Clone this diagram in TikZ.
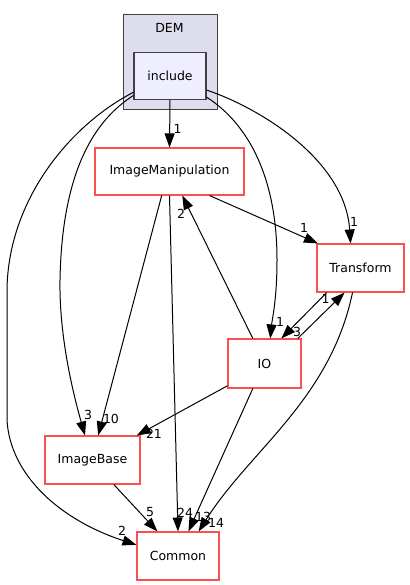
\documentclass[tikz,border=0pt]{standalone}
\usepackage{fontspec}
\setmainfont{DejaVu Sans}
\usetikzlibrary{positioning, arrows.meta}

\definecolor{dirred}{RGB}{250,80,80}
\definecolor{clusterfill}{RGB}{221,221,238}
\definecolor{incfill}{RGB}{238,238,255}
\definecolor{darkline}{RGB}{64,64,64}

\begin{document}
\begin{tikzpicture}[x=1pt, y=-1pt,
			dir/.style={rectangle, draw=dirred, fill=white, line width=1.1pt, inner sep=0pt, font=\fontsize{12.5}{15}\selectfont},
			incdir/.style={rectangle, draw=darkline, fill=incfill, line width=1.1pt, inner sep=0pt, font=\fontsize{12.5}{15}\selectfont},
			dep/.style={-{Triangle[length=14pt, width=10pt]}, line width=1pt, draw=black},
			cnt/.style={inner sep=0pt, font=\fontsize{12.5}{14}\selectfont}
			]
			\useasboundingbox (0,0) rectangle (409,585);
			% cluster
			\draw[darkline, fill=clusterfill, line width=1pt] (123,15) rectangle (217,110);
			\node[font=\fontsize{12.5}{15}\selectfont] (demlabel) at (169.5,27.5) {DEM};
			
			\node[incdir, minimum width=72pt, minimum height=47pt] (include) at (170,76) {include};
			\node[dir, minimum width=149pt, minimum height=47pt] (imgman) at (169.5,171.5) {ImageManipulation};
			\node[dir, minimum width=87pt, minimum height=48pt] (transform) at (360.5,268) {Transform};
			\node[dir, minimum width=73pt, minimum height=49pt] (io) at (264.5,363.5) {IO};
			\node[dir, minimum width=95pt, minimum height=48pt] (imgbase) at (92.5,460) {ImageBase};
			\node[dir, minimum width=82pt, minimum height=48pt] (common) at (178,556) {Common};
			
			% from include
			\draw[dep] (include.south) -- (imgman.north);
			\draw[dep] (include.-21) .. controls (260,108) and (345,160) .. (transform.112);
			\draw[dep] (include.-30) .. controls (250,125) and (277,180) .. (277,260) .. controls (277,300) and (272,320) .. (io.77);
			\draw[dep] (include.-152) .. controls (95,120) and (62,170) .. (60,280) .. controls (59,340) and (75,400) .. (imgbase.107);
			\draw[dep] (include.-156) .. controls (70,125) and (8,200) .. (7,290) -- (7,420) .. controls (10,475) and (60,520) .. (common.165);
			
			% from ImageManipulation
			\draw[dep] (imgman.-31) -- (transform.150);
			\draw[dep] (imgman.-108) -- (imgbase.77);
			\draw[dep] (imgman.south) -- (common.north);
			
			% from IO and Transform
			\draw[dep] (io.115) -- (imgman.-62);
			\draw[dep] (io.37) -- (transform.-123);
			\draw[dep] (transform.-144) -- (io.56);
			\draw[dep] (io.-149) -- (imgbase.29);
			\draw[dep] (io.-115) -- (common.67);
			\draw[dep] (transform.-108) .. controls (330,400) and (250,450) .. (common.50);
			\draw[dep] (imgbase.-49) -- (common.130);
			
			% counts
			\node[cnt] (c1) at (177.5,128.5) {1};
			\node[cnt] (c2) at (354,222) {1};
			\node[cnt] (c3) at (304,228) {1};
			\node[cnt] (c4) at (280,322) {1};
			\node[cnt] (c5) at (181,214) {2};
			\node[cnt] (c6) at (325.5,299) {1};
			\node[cnt] (c7) at (297,332) {3};
			\node[cnt] (c8) at (88,415) {3};
			\node[cnt] (c9) at (111,419) {10};
			\node[cnt] (c10) at (154,434) {21};
			\node[cnt] (c11) at (122,530.5) {2};
			\node[cnt] (c12) at (150,512) {5};
			\node[cnt] (c13) at (185,513) {24};
			\node[cnt] (c14) at (203,517) {13};
			\node[cnt] (c15) at (216,522.5) {14};
		\end{tikzpicture}
\end{document}
